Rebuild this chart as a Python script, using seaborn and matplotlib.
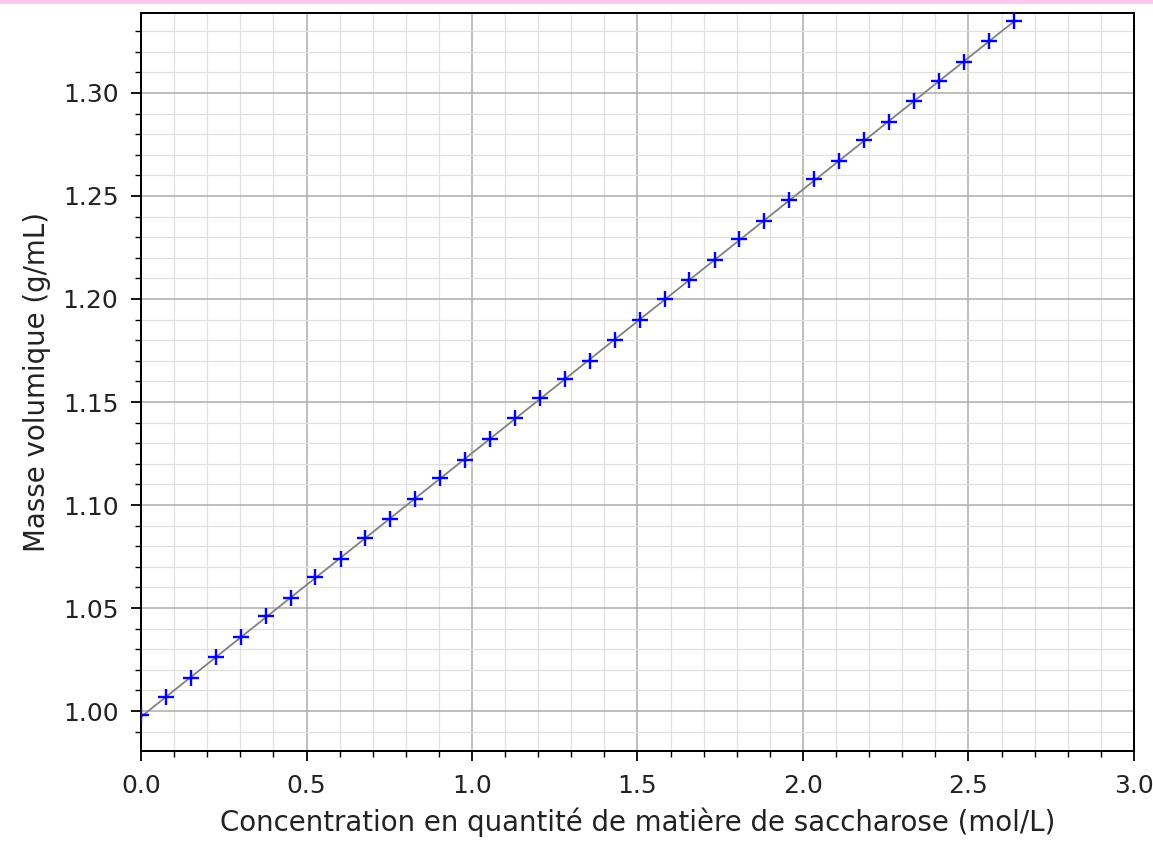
import matplotlib
matplotlib.use("Agg")
import matplotlib.pyplot as plt
import seaborn as sns
import pandas as pd
from matplotlib.patches import Rectangle
from matplotlib.ticker import MultipleLocator, FormatStrFormatter

concentration = [0.000, 0.075, 0.151, 0.226, 0.301, 0.377, 0.452, 0.527, 0.603, 0.678,
                 0.753, 0.829, 0.904, 0.979, 1.055, 1.130, 1.205, 1.281, 1.356, 1.431,
                 1.507, 1.582, 1.657, 1.733, 1.808, 1.883, 1.959, 2.034, 2.109, 2.185,
                 2.260, 2.335, 2.411, 2.486, 2.561, 2.637]
masse_volumique = [0.998, 1.007, 1.016, 1.026, 1.036, 1.046, 1.055, 1.065, 1.074, 1.084,
                   1.093, 1.103, 1.113, 1.122, 1.132, 1.142, 1.152, 1.161, 1.170, 1.180,
                   1.190, 1.200, 1.209, 1.219, 1.229, 1.238, 1.248, 1.258, 1.267, 1.277,
                   1.286, 1.296, 1.306, 1.315, 1.325, 1.335]

xlabel = "Concentration en quantité de matière de saccharose (mol/L)"
ylabel = "Masse volumique (g/mL)"

df = pd.DataFrame({"c": concentration, "rho": masse_volumique})

sns.set_style("ticks")
plt.rcParams['font.family'] = ['DejaVu Sans']

dpi = 144
fig = plt.figure(figsize=(1153 / dpi, 845 / dpi), dpi=dpi)
ax = fig.add_axes([0.1223, 0.1112, 0.9835 - 0.1223, 0.9846 - 0.1112])

sns.regplot(data=df, x="c", y="rho", ax=ax, ci=None, truncate=True,
            marker="+",
            scatter_kws=dict(color="blue", alpha=1.0, s=72, linewidths=1.2, zorder=3),
            line_kws=dict(color="gray", linewidth=0.9, zorder=2))

ax.set_xlim(0, 3.0)
ax.set_ylim(0.9806, 1.3388)
ax.xaxis.set_major_locator(MultipleLocator(0.5))
ax.xaxis.set_minor_locator(MultipleLocator(0.1))
ax.yaxis.set_major_locator(MultipleLocator(0.05))
ax.yaxis.set_minor_locator(MultipleLocator(0.01))
ax.yaxis.set_major_formatter(FormatStrFormatter("%.2f"))
ax.xaxis.set_major_formatter(FormatStrFormatter("%.1f"))
ax.grid(which="major", color="#b0b0b0", linewidth=0.8)
ax.grid(which="minor", color="#e0e0e0", linewidth=0.6)
ax.set_axisbelow(True)
for s in ax.spines.values():
    s.set_visible(True)
    s.set_color("black")
    s.set_linewidth(1.0)
ax.tick_params(which="both", direction="out", colors="black", labelcolor="#222222")
ax.tick_params(which="major", length=4.8, width=0.9, labelsize=12.5, pad=6.5)
ax.tick_params(which="minor", length=2.8, width=0.7)
ax.set_xlabel(xlabel, fontsize=13.8, color="#222222", labelpad=5)
ax.set_ylabel(ylabel, fontsize=13.8, color="#222222", labelpad=6)

fig.patches.append(Rectangle((0, 1 - 4 / 845), 1, 4 / 845, transform=fig.transFigure,
                             facecolor="#ffc8f0", edgecolor="none", zorder=10))

fig.savefig("out.png", dpi=dpi)
